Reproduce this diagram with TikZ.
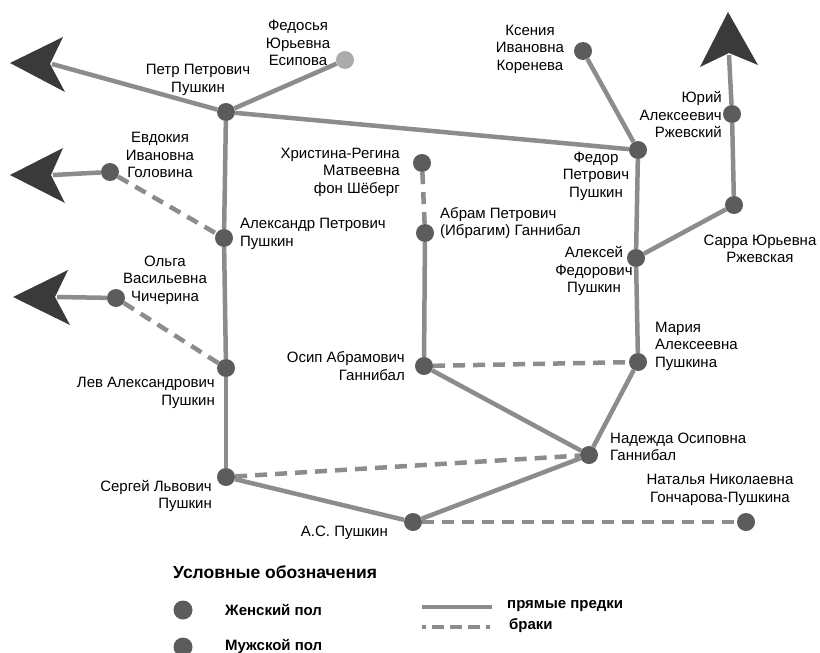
\documentclass[tikz,border=0pt]{standalone}
\usepackage{fontspec}
\setmainfont{Liberation Sans}
\begin{document}
\begin{tikzpicture}[x=1pt,y=-1pt,
  dot/.style={circle, fill=dotgray, minimum size=18pt, inner sep=0pt},
  lightdot/.style={dot, fill=lightgray2},
  anc/.style={draw=linegray, line width=4.5pt},
  mar/.style={anc, dash pattern=on 12pt off 8pt},
  lbl/.style={font=\fontsize{15}{17.5}\selectfont, align=center, inner sep=0pt},
  lblr/.style={lbl, align=right},
  lbll/.style={lbl, align=left},
  leg/.style={font=\fontsize{15}{17}\selectfont\bfseries, inner sep=0pt, anchor=west},
  head/.style={fill=headgray, draw=none}
]
\definecolor{dotgray}{HTML}{5C5C5C}
\definecolor{lightgray2}{HTML}{ABABAB}
\definecolor{linegray}{HTML}{8C8C8C}
\definecolor{headgray}{HTML}{3A3A3A}
\useasboundingbox (0,0) rectangle (820,653);
\fill[white] (0,0) rectangle (820,653);

% persons
\node[dot] (petr) at (226,112) {};
\node[lightdot] (fedosya) at (345,60) {};
\node[dot] (evdokiya) at (110,172) {};
\node[dot] (alexandr) at (224,238) {};
\node[dot] (olga) at (116,298) {};
\node[dot] (lev) at (226,368) {};
\node[dot] (sergei) at (226,477) {};
\node[dot] (as) at (413,522) {};
\node[dot] (nadezhda) at (589,455) {};
\node[dot] (natalia) at (746,522) {};
\node[dot] (osip) at (424,366) {};
\node[dot] (maria) at (638,362) {};
\node[dot] (abram) at (425,233) {};
\node[dot] (hristina) at (422,163) {};
\node[dot] (fedor) at (638,150) {};
\node[dot] (ksenia) at (583,51) {};
\node[dot] (alexei) at (636,258) {};
\node[dot] (sarra) at (734,205) {};
\node[dot] (yuri) at (732,114) {};

% arrow ends
\coordinate (aPetr) at (52,64);
\coordinate (aEvd) at (53,175);
\coordinate (aOlga) at (57,297);
\coordinate (aYuri) at (729,55);

% arrow heads
\fill[head] (10,63) -- (63,37) -- (50,64) -- (65,92) -- cycle;
\fill[head] (10,175) -- (63,148) -- (51,175) -- (65,203) -- cycle;
\fill[head] (13,297) -- (68,270) -- (55,297) -- (70,325) -- cycle;
\fill[head] (728,12) -- (700,67) -- (729,53) -- (758,65) -- cycle;

% direct ancestors
\draw[anc] (petr) -- (aPetr);
\draw[anc] (petr) -- (fedosya);
\draw[anc] (petr) -- (fedor);
\draw[anc] (petr) -- (alexandr);
\draw[anc] (alexandr) -- (lev);
\draw[anc] (lev) -- (sergei);
\draw[anc] (sergei) -- (as);
\draw[anc] (nadezhda) -- (as);
\draw[anc] (osip) -- (nadezhda);
\draw[anc] (maria) -- (nadezhda);
\draw[anc] (abram) -- (osip);
\draw[anc] (ksenia) -- (fedor);
\draw[anc] (fedor) -- (alexei);
\draw[anc] (alexei) -- (maria);
\draw[anc] (alexei) -- (sarra);
\draw[anc] (sarra) -- (yuri);
\draw[anc] (yuri) -- (aYuri);
\draw[anc] (evdokiya) -- (aEvd);
\draw[anc] (olga) -- (aOlga);

% marriages
\draw[mar] (evdokiya) -- (alexandr);
\draw[mar] (olga) -- (lev);
\draw[mar] (hristina) -- (abram);
\draw[mar] (osip) -- (maria);
\draw[mar] (sergei) -- (nadezhda);
\draw[mar] (as) -- (natalia);

% labels
\node[lbl] (tPetr) at (198,80) {Петр Петрович\\Пушкин};
\node[lbl] (tFedosya) at (298,43) {Федосья\\Юрьевна\\Есипова};
\node[lbl] (tEvd) at (160,155) {Евдокия\\Ивановна\\Головина};
\node[lbll, anchor=west] (tAlexandr) at (240,234) {Александр Петрович\\Пушкин};
\node[lbl] (tOlga) at (165,280) {Ольга\\Васильевна\\Чичерина};
\node[lblr, anchor=east] (tLev) at (215,393) {Лев Александрович\\Пушкин};
\node[lblr, anchor=east] (tSergei) at (212,496) {Сергей Львович\\Пушкин};
\node[lblr, anchor=east] (tAs) at (388,533) {А.С. Пушкин};
\node[lbll, anchor=west] (tNadezhda) at (610,447) {Надежда Осиповна\\Ганнибал};
\node[lbl] (tNatalia) at (720,490) {Наталья Николаевна\\Гончарова-Пушкина};
\node[lblr, anchor=east] (tOsip) at (405,366) {Осип Абрамович\\Ганнибал};
\node[lbll, anchor=west] (tMaria) at (655,346) {Мария\\Алексеевна\\Пушкина};
\node[lbll, anchor=west] (tAbram) at (440,223) {Абрам Петрович\\(Ибрагим) Ганнибал};
\node[lblr, anchor=east] (tHristina) at (400,172) {Христина-Регина\\Матвеевна\\фон Шёберг};
\node[lbl] (tFedor) at (596,176) {Федор\\Петрович\\Пушкин};
\node[lbl] (tKsenia) at (530,49) {Ксения\\Ивановна\\Коренева};
\node[lbl] (tAlexei) at (594,271) {Алексей\\Федорович\\Пушкин};
\node[lbl] (tSarra) at (760,249) {Сарра Юрьевна\\Ржевская};
\node[lblr, anchor=east] (tYuri) at (722,115) {Юрий\\Алексеевич\\Ржевский};

% legend
\node[font=\fontsize{17.5}{20}\selectfont\bfseries, inner sep=0pt, anchor=west] (legTitle) at (173,572) {Условные обозначения};
\node[dot, minimum size=19pt] (legF) at (183,610) {};
\node[dot, minimum size=19pt] (legM) at (183,647) {};
\node[leg] (legFt) at (225,610) {Женский пол};
\node[leg] (legMt) at (225,646) {Мужской пол};
\coordinate (ls1) at (422,607);
\coordinate (ls2) at (492,607);
\coordinate (ld1) at (422,627);
\coordinate (ld2) at (492,627);
\draw[anc] (ls1) -- (ls2);
\draw[mar, dash pattern=on 4pt off 6pt on 12pt off 6pt on 12pt off 6pt on 12pt off 6pt] (ld1) -- (ld2);
\node[leg] (legS) at (507,606) {прямые предки};
\node[leg] (legD) at (509,626) {браки};
\end{tikzpicture}
\end{document}
